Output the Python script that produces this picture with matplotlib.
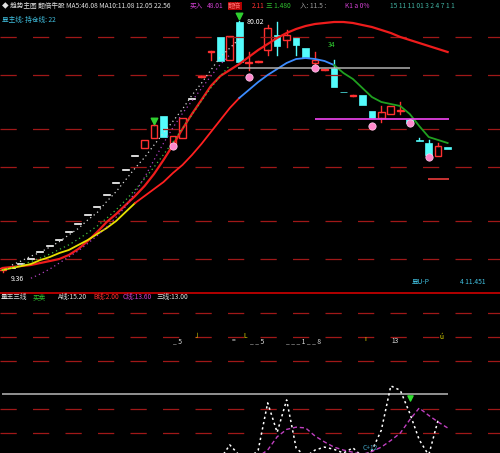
import numpy as np
import matplotlib
matplotlib.use('Agg')
import matplotlib.pyplot as plt
from matplotlib.patches import Rectangle

plt.rcParams['font.family'] = ['Noto Sans CJK SC', 'DejaVu Sans']

# daily bars (price)
opens  = [10.00, 10.48, 11.61, 13.02, 14.98, 16.67, 18.36, 20.62, 22.87, 25.40,
          27.66, 31.03, 34.41, 38.07, 42.01, 44.27, 47.08, 53.27, 45.11, 47.08,
          57.98, 64.25, 71.20, 75.52, 69.04, 79.74, 68.30, 68.48, 71.86, 76.08,
          74.67, 75.52, 72.42, 68.20, 66.10, 66.79, 60.10, 58.91, 59.19, 54.68,
          52.71, 53.84, 54.60, 52.43, 46.50, 45.67, 42.01, 44.55]
highs  = [10.60, 10.48, 11.61, 13.02, 14.98, 16.67, 18.36, 20.62, 22.87, 25.40,
          27.66, 31.03, 34.41, 38.07, 42.01, 46.52, 51.58, 53.27, 47.64, 52.71,
          57.98, 64.25, 71.29, 75.52, 75.80, 80.02, 71.29, 68.48, 78.89, 79.74,
          77.49, 75.52, 72.42, 71.29, 66.22, 69.04, 60.10, 58.91, 59.19, 54.68,
          56.09, 56.09, 57.22, 52.43, 47.00, 46.52, 45.67, 44.55]
lows   = [9.36, 10.48, 11.61, 13.02, 14.98, 16.67, 18.36, 20.62, 22.87, 25.40,
          27.66, 31.03, 34.41, 38.07, 42.01, 44.27, 47.08, 47.36, 44.83, 47.08,
          57.98, 64.25, 69.04, 68.76, 69.04, 68.48, 66.22, 68.48, 70.45, 70.45,
          72.70, 70.45, 69.88, 66.22, 66.10, 61.44, 60.00, 58.91, 56.37, 52.71,
          51.58, 53.84, 53.84, 51.30, 46.23, 42.29, 42.01, 43.98]
closes = [10.50, 10.48, 11.61, 13.02, 14.98, 16.67, 18.36, 20.62, 22.87, 25.40,
          27.66, 31.03, 34.41, 38.07, 42.01, 46.52, 50.74, 47.36, 47.64, 52.71,
          57.98, 64.25, 71.29, 68.76, 75.80, 68.48, 68.48, 68.48, 78.05, 72.98,
          76.08, 73.26, 69.88, 69.04, 66.22, 61.44, 60.00, 58.91, 56.37, 52.71,
          54.40, 56.09, 54.68, 51.30, 46.23, 42.29, 44.83, 43.98]

# moving lines
ma_long = [10.48, 10.76, 11.04, 11.33, 11.89, 12.45, 13.02, 14.14, 15.83, 18.08,
           20.62, 23.43, 25.68, 28.22, 30.75, 33.57, 36.95, 40.89, 45.11, 49.61,
           53.84, 57.78, 61.72, 64.53, 66.22, 67.91, 69.88, 71.86, 73.54, 75.24,
           76.64, 77.77, 78.61, 79.18, 79.46, 79.74, 79.74, 79.46, 78.89, 78.33,
           77.49, 76.64, 75.52, 74.67, 73.83, 72.98, 72.14, 71.29]
ma_trend = [9.92, 10.48, 11.04, 11.61, 12.73, 13.58, 14.70, 15.55, 16.96, 18.36,
            20.05, 21.74, 23.71, 26.25, 28.78, 30.75, 32.72, 34.69, 37.23, 39.48,
            42.29, 45.39, 48.77, 52.15, 55.52, 58.34, 60.59, 62.85, 64.82, 66.51,
            68.20, 69.32, 69.60, 69.32, 68.76, 67.63, 65.38, 63.69, 61.16, 58.62,
            57.22, 56.65, 56.09, 53.84, 50.46, 47.36, 46.52, 45.67]
trend_cuts = [0, 14, 25, 35, 47]
trend_colors = ['#e8e000', '#ff2020', '#3c8cff', '#20a020']

dot_up   = [np.nan, 11.3, 12.5, 13.8, 14.9, 16.4, 17.9, 19.8, 21.6, 24.0,
            26.1, 29.2, 32.0, 35.3, 38.6, 41.6, 45.1, 48.5, 51.8, 55.2,
            59.1, 62.5, 66.2, 69.9, 72.4, 75.0]
dot_mid  = [9.9, 10.6, 11.4, 12.3, 13.3, 14.4, 15.7, 17.0, 18.6, 20.4,
            22.3, 24.5, 26.9, 29.6, 32.5, 35.6, 38.9, 42.4, 46.0, 49.8,
            53.6, 57.5, 61.2, 64.5, 67.5]
dot_low  = [np.nan, np.nan, np.nan, 7.6, 8.8, 10.2, 11.9, 13.6, 15.3, 17.4,
            19.6, 22.0, 24.8, 27.8, 31.8, 36.0, 40.9, 45.6, 50.0, 54.0,
            57.5, 61.0, 64.5, 67.8, 70.5]

signal_idx = [18, 26, 33, 39, 43, 45]
signal_val = [44.83, 64.25, 66.79, 50.46, 51.30, 41.73]
top_idx = [16, 25]
top_val = [51.90, 81.40]

lvl_gray, lvl_magenta, lvl_red = 66.79, 52.43, 35.54

# sub indicator
osc_white = [np.nan] * 23 + [-8, 11, -3, -8, 4, 68, 28, 72, 7, -5, 4, 8, 5, 0, 7,
                             -5, 3, 31, 91, 85, 54, 18, -3, 45, np.nan]
osc_purple = [np.nan] * 27 + [-5, 4, 22, 32, 35, 34, 23, 15, 8, 4, 1, -2, 2, 8, 17,
                              27, 45, 61, 51, 42, 34]
osc_level = 80

W, H = 500, 453
fig = plt.figure(figsize=(W / 100, H / 100), dpi=100, facecolor='black')

def fx(px):
    return px / W

def fy(py):
    return 1 - py / H

def price_of(py):
    return 85.932 - 0.28153 * py

def val_of(py):
    return (453 - py) / 0.7375

xlim = (-0.264, 52.53)
ax = fig.add_axes([0, fy(292), 1, 292 / H])
ax.set_facecolor('black')
ax.set_xlim(*xlim)
ax.set_ylim(price_of(292), price_of(0))
ax.axis('off')

grid_kw = dict(color='#a01818', lw=0.9, dashes=(13, 13))
for gy in [37, 75, 129, 167, 221, 259]:
    ax.axhline(price_of(gy), **grid_kw)

RED, CYAN = '#ff3030', '#54fcfc'
x = np.arange(len(opens))
for i in x:
    o, h, l, c = opens[i], highs[i], lows[i], closes[i]
    if 0 < i < 15 or i == 20:
        ax.plot([i - 0.32, i + 0.32], [c, c], color='white', lw=1.2)
        continue
    if c >= o:
        top, bot = max(c, o + 0.3), o
        ax.add_patch(Rectangle((i - 0.35, bot), 0.7, top - bot, fill=False,
                               edgecolor=RED, lw=1.0))
        ax.plot([i, i], [top, h], color=RED, lw=1.0)
        ax.plot([i, i], [l, bot], color=RED, lw=1.0)
    else:
        ax.add_patch(Rectangle((i - 0.35, c), 0.7, o - c, facecolor=CYAN,
                               edgecolor=CYAN, lw=0.5))
        ax.plot([i, i], [o, h], color=CYAN, lw=1.0)
        ax.plot([i, i], [l, c], color=CYAN, lw=1.0)

ax.plot(x, ma_long, color='#ee1c1c', lw=1.6)
for k in range(len(trend_cuts) - 1):
    a, b = trend_cuts[k], trend_cuts[k + 1]
    ax.plot(x[a:b + 1], ma_trend[a:b + 1], color=trend_colors[k], lw=1.3)

ax.plot(np.arange(len(dot_up)), dot_up, color='#d8d8d8', lw=0.9, ls=(0, (1, 2.5)))
ax.plot(np.arange(len(dot_mid)), dot_mid, color='#40c040', lw=0.9, ls=(0, (1, 2.5)))
ax.plot(np.arange(len(dot_low)), dot_low, color='#b040c0', lw=0.9, ls=(0, (1, 2.5)))

ax.scatter(signal_idx, signal_val, s=28, marker='o', color='#ff88cc',
           edgecolors='#ffd0f0', linewidths=0.5, zorder=5)
ax.scatter(top_idx, top_val, s=22, marker='v', color='#30d030', zorder=5)

ax.hlines(lvl_gray, 24.9, 43.0, color='#b0b0b0', lw=1.1)
ax.hlines(lvl_magenta, 33.0, 47.1, color='#e040e0', lw=1.3)
ax.hlines(lvl_red, 44.9, 47.1, color='#ff4040', lw=1.1)

ax.text(25.8, price_of(22), '80.02', color='white', fontsize=5, va='center')
ax.text(0.9, price_of(279), '9.36', color='white', fontsize=5, va='center')
ax.text(34.3, price_of(45), '34', color='#30d030', fontsize=5, va='center')

# lower panel
ax2 = fig.add_axes([0, 0, 1, 160 / H])
ax2.set_facecolor('black')
ax2.set_xlim(*xlim)
ax2.set_ylim(0, val_of(293))
ax2.axis('off')
for gy in [313, 337, 361, 409, 433]:
    ax2.axhline(val_of(gy), **grid_kw)
ax2.hlines(osc_level, -0.05, 47.05, color='#b8b8b8', lw=1.1)
ax2.plot(np.arange(len(osc_white)), osc_white, color='white', lw=1.1, ls=(0, (1.5, 2)))
ax2.plot(np.arange(len(osc_purple)), osc_purple, color='#c040c0', lw=1.0, ls=(0, (3, 2)))
ax2.scatter([43], [val_of(398)], s=14, marker='v', color='#30e030', zorder=5)

fig.add_artist(plt.Line2D([0, 1], [fy(292.5), fy(292.5)], color='#c00000', lw=1.3))

# header texts
fs = 4.8
def put(px, py, s, c, **kw):
    fig.text(fx(px), fy(py), s, color=c, fontsize=fs, va='center', ha='left', **kw)

put(2, 6, '◆ 趋势主图 翻倍牛股 MA5:46.08 MA10:11.08 12.05 22.56', '#e0e0e0')
put(190, 6, '买入', '#d040d0')
put(207, 6, '48.01', '#d040d0')
put(228, 6, '翻倍', '#ff7070',
    bbox=dict(boxstyle='square,pad=0.05', facecolor='#b00000', edgecolor='none'))
put(252, 6, '2.11', '#ff3030')
put(266, 6, '三 1.480', '#30c030')
put(300, 6, '入: 11.5 :', '#a0a0a0')
put(345, 6, 'K1 a 0%', '#d040d0')
put(390, 6, '15 11 11 01 3 2 4 7 1 1', '#40b0a0')
put(2, 20, '显主线: 持仓线: 22', '#40c0e0')
put(412, 282, '显U-P', '#40c0e0')
put(460, 282, '4 11.451', '#40c0e0')

put(1, 297, '量王三线', '#e0e0e0')
put(33, 297, '买卖', '#30c030')
put(58, 297, 'A线:15.20', '#e0e0e0')
put(93, 297, 'B线:2.00', '#ff3030')
put(123, 297, 'C线:13.60', '#d040d0')
put(157, 297, '三线:13.00', '#e0e0e0')

put(173, 341, '_ 5', '#e0e0e0')
put(194, 336, '˩', '#e8e000')
put(232, 341, '= ', '#e0e0e0')
put(243, 336, 'L', '#e8e000')
put(250, 341, '_ _ 5', '#e0e0e0')
put(286, 341, '_ _ _ 1 _ _ 8', '#e0e0e0')
put(364, 339, 'ı', '#e8e000')
put(391, 341, '13', '#e0e0e0')
put(440, 337, 'ú', '#e8e000')
put(363, 448, 'C+12', '#40a0c0')

fig.savefig('out.png', dpi=100, facecolor='black')
